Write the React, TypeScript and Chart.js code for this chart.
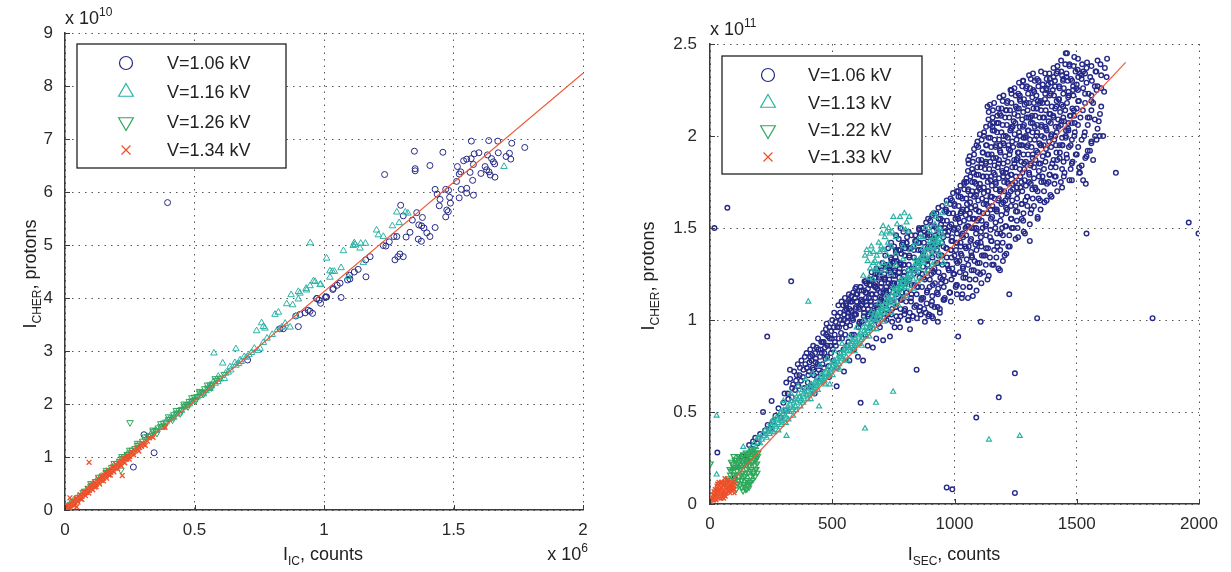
import React, { useEffect, useRef } from 'react';
import { Chart, registerables } from 'chart.js';
import { drawPoint } from 'chart.js/helpers';

Chart.register(...registerables);

const FONT = '"Liberation Sans", Arial, Helvetica, sans-serif';

// ---------------- Left panel: x in 1e6 counts, y in 1e10 protons ----------------
const leftLabels = ['V=1.06 kV', 'V=1.16 kV', 'V=1.26 kV', 'V=1.34 kV'];
const leftXTicks = [0, 0.5, 1, 1.5, 2];
const leftYTicks = [0, 1, 2, 3, 4, 5, 6, 7, 8, 9];
const leftFitX = [0, 2];
const leftFitY = [0, 8.24];

const leftBlue = [
  0.264, 0.81, 0.305, 1.42, 0.344, 1.08, 0.396, 5.8, 0.705, 2.83,
  0.83, 3.42, 0.843, 3.42, 0.901, 3.46, 0.891, 3.66, 0.907, 3.69, 0.927, 3.72, 0.946, 3.75, 0.956, 3.71, 0.939, 3.77,
  0.972, 3.99, 0.987, 3.9, 1.008, 4.02, 0.981, 3.96, 1.01, 4.02, 1.005, 4.01, 1.066, 4.01, 0.972, 3.99,
  1.034, 4.16, 1.036, 4.18, 1.051, 4.24, 1.062, 4.28, 1.091, 4.34, 1.1, 4.36, 1.098, 4.43, 1.117, 4.49, 1.132, 4.54,
  1.162, 4.4, 1.161, 4.72, 1.178, 4.78,
  1.274, 4.72, 1.285, 4.78, 1.306, 4.78, 1.293, 4.83,
  1.229, 4.99, 1.239, 4.98, 1.252, 5.06, 1.27, 5.16, 1.281, 5.16,
  1.317, 5.15, 1.332, 5.24, 1.364, 5.11, 1.376, 5.07,
  1.296, 5.75, 1.306, 5.55, 1.358, 5.61, 1.38, 5.52, 1.341, 5.47, 1.366, 5.38, 1.377, 5.36, 1.386, 5.32, 1.397, 5.23, 1.409, 5.16, 1.429, 5.33,
  1.448, 5.86, 1.445, 5.74, 1.485, 5.9, 1.488, 5.79, 1.474, 5.66, 1.48, 5.63, 1.47, 5.53,
  1.429, 6.05, 1.437, 5.96, 1.47, 6.05, 1.481, 6.03, 1.53, 6.05, 1.551, 6.07, 1.551, 5.98, 1.522, 5.89, 1.577, 5.94,
  1.512, 6.2, 1.574, 6.22, 1.515, 6.48, 1.528, 6.38, 1.522, 6.34, 1.564, 6.37, 1.577, 6.52,
  1.606, 6.35, 1.622, 6.48, 1.628, 6.42, 1.637, 6.38, 1.642, 6.32, 1.66, 6.28,
  1.647, 6.63, 1.654, 6.57, 1.659, 6.53, 1.539, 6.59, 1.551, 6.62, 1.568, 6.63, 1.58, 6.72, 1.598, 6.74,
  1.631, 6.7, 1.673, 6.74, 1.716, 6.73, 1.703, 6.67, 1.721, 6.62,
  1.569, 6.96, 1.636, 6.97, 1.671, 6.96, 1.725, 6.92, 1.775, 6.84,
  1.234, 6.33, 1.349, 6.77, 1.459, 6.75, 1.352, 6.44, 1.352, 6.4, 1.409, 6.5,
];

const leftCyan = [
  0.33, 1.42, 0.35, 1.5, 0.37, 1.56, 0.39, 1.66, 0.41, 1.72, 0.43, 1.81, 0.45, 1.88, 0.46, 1.94, 0.47, 1.97, 0.49, 2.05,
  0.5, 2.08, 0.51, 2.13, 0.52, 2.16, 0.53, 2.21, 0.545, 2.25, 0.555, 2.31, 0.565, 2.34, 0.58, 2.39, 0.573, 2.42,
  0.592, 2.52, 0.615, 2.48, 0.6, 2.47, 0.62, 2.58, 0.64, 2.64, 0.66, 2.73, 0.68, 2.8, 0.7, 2.88, 0.72, 2.97,
  0.609, 2.77, 0.637, 2.7, 0.656, 2.78, 0.676, 2.83, 0.692, 2.89, 0.575, 2.96, 0.66, 3.04,
  0.731, 3.05, 0.744, 3.01, 0.753, 3.05, 0.766, 3.16, 0.78, 3.24, 0.8, 3.31, 0.82, 3.4, 0.85, 3.52,
  0.759, 3.53, 0.766, 3.46, 0.74, 3.38, 0.772, 3.43, 0.811, 3.69, 0.824, 3.73, 0.837, 3.45, 0.869, 3.45, 0.891, 3.66,
  0.873, 4.06, 0.856, 3.89, 0.879, 3.87, 0.901, 3.98, 0.959, 4.32, 0.946, 4.23, 0.931, 4.18, 0.901, 4.12, 0.987, 4.26,
  0.947, 5.04, 1.01, 4.75, 0.965, 4.31, 0.933, 4.15, 0.907, 4.09, 0.985, 4.25,
  1.023, 4.51, 1.032, 4.5, 1.04, 4.5, 1.023, 4.39, 1.066, 4.57, 1.094, 4.4, 1.075, 4.89,
  1.117, 5.04, 1.113, 4.99, 1.142, 5.03, 1.16, 5.03, 1.139, 4.94, 1.12, 5.01, 1.152, 4.67,
  1.203, 5.28, 1.21, 5.19, 1.229, 5.16, 1.264, 5.36, 1.29, 5.42, 1.281, 5.62, 1.314, 5.62, 1.324, 5.6, 1.695, 6.48,
  0.42, 1.75, 0.44, 1.83, 0.48, 2.0, 0.535, 2.19, 0.56, 2.29, 0.59, 2.42, 0.63, 2.6, 0.67, 2.76, 0.71, 2.93,
];

const leftGreen = [
  0.002, 0.03, 0.008, 0.05, 0.015, 0.09, 0.022, 0.11, 0.03, 0.15, 0.04, 0.19, 0.05, 0.24, 0.06, 0.27, 0.07, 0.33,
  0.08, 0.36, 0.09, 0.41, 0.1, 0.45, 0.11, 0.48, 0.12, 0.54, 0.13, 0.57, 0.14, 0.62, 0.15, 0.66, 0.16, 0.71,
  0.17, 0.74, 0.18, 0.8, 0.19, 0.83, 0.2, 0.88, 0.21, 0.92, 0.22, 0.97, 0.23, 1.0, 0.24, 1.05, 0.25, 1.08,
  0.26, 1.13, 0.27, 1.16, 0.28, 1.22, 0.29, 1.25, 0.3, 1.3, 0.31, 1.33, 0.32, 1.39, 0.33, 1.41, 0.34, 1.48,
  0.35, 1.5, 0.36, 1.55, 0.37, 1.58, 0.38, 1.64, 0.39, 1.66, 0.4, 1.71, 0.41, 1.74, 0.42, 1.8, 0.43, 1.83,
  0.44, 1.88, 0.45, 1.9, 0.46, 1.96, 0.47, 1.99, 0.48, 2.05, 0.49, 2.06, 0.5, 2.13, 0.51, 2.14, 0.52, 2.21,
  0.53, 2.22, 0.54, 2.29, 0.55, 2.3, 0.56, 2.36, 0.57, 2.38, 0.585, 2.45, 0.6, 2.49, 0.615, 2.56,
  0.1, 0.5, 0.13, 0.62, 0.16, 0.75, 0.19, 0.88, 0.22, 1.01, 0.25, 1.13, 0.28, 1.26, 0.31, 1.38, 0.34, 1.51,
  0.37, 1.63, 0.4, 1.76, 0.43, 1.88, 0.46, 2.0, 0.49, 2.12, 0.52, 2.24, 0.55, 2.36, 0.58, 2.48, 0.355, 1.45,
  0.385, 1.58, 0.415, 1.7, 0.445, 1.82, 0.475, 1.95, 0.505, 2.07, 0.535, 2.19, 0.565, 2.31,
  0.251, 1.65, 0.216, 0.755,
];

const leftRed = [
  0.004, 0.01, 0.008, 0.04, 0.012, 0.03, 0.016, 0.07, 0.019, 0.23, 0.022, 0.08, 0.026, 0.12, 0.03, 0.11, 0.034, 0.15,
  0.038, 0.14, 0.045, 0.06, 0.044, 0.19, 0.048, 0.18, 0.053, 0.23, 0.057, 0.22, 0.062, 0.27, 0.066, 0.26, 0.071, 0.3,
  0.075, 0.3, 0.08, 0.34, 0.084, 0.33, 0.089, 0.38, 0.093, 0.9, 0.094, 0.37, 0.098, 0.42, 0.103, 0.41, 0.108, 0.46,
  0.112, 0.45, 0.117, 0.49, 0.121, 0.49, 0.126, 0.53, 0.131, 0.52, 0.135, 0.57, 0.14, 0.56, 0.144, 0.61, 0.149, 0.6,
  0.154, 0.65, 0.158, 0.64, 0.163, 0.69, 0.167, 0.67, 0.172, 0.72, 0.177, 0.71, 0.181, 0.76, 0.186, 0.75, 0.19, 0.8,
  0.195, 0.79, 0.2, 0.84, 0.205, 0.83, 0.21, 0.88, 0.214, 0.86, 0.221, 0.65, 0.22, 0.92, 0.226, 0.91, 0.232, 0.97,
  0.238, 0.96, 0.244, 1.02, 0.25, 1.01, 0.257, 1.06, 0.264, 1.08, 0.272, 1.12, 0.28, 1.14, 0.288, 1.18, 0.295, 1.2,
  0.305, 1.24, 0.318, 1.3, 0.386, 1.56, 0.035, 0.09, 0.061, 0.21, 0.115, 0.43, 0.17, 0.66,
  0.01, 0.08, 0.02, 0.03, 0.028, 0.17, 0.036, 0.08, 0.042, 0.22, 0.05, 0.15, 0.058, 0.29, 0.065, 0.2, 0.072, 0.35,
  0.079, 0.27, 0.086, 0.41, 0.092, 0.32, 0.1, 0.47, 0.107, 0.38, 0.114, 0.53, 0.12, 0.44, 0.128, 0.59, 0.134, 0.49,
  0.141, 0.64, 0.148, 0.55, 0.155, 0.7, 0.161, 0.6, 0.168, 0.75, 0.175, 0.66, 0.182, 0.81, 0.188, 0.72, 0.196, 0.86,
  0.203, 0.78, 0.21, 0.92, 0.217, 0.83, 0.224, 0.97, 0.231, 0.89, 0.24, 1.03, 0.248, 0.96, 0.256, 1.1, 0.265, 1.04,
  0.275, 1.17, 0.285, 1.11, 0.298, 1.26, 0.31, 1.22, 0.325, 1.36, 0.34, 1.37,
];

// ---------------- Right panel: x in counts, y in 1e9 protons (axis shows 1e11) ----------------
const rightLabels = ['V=1.06 kV', 'V=1.13 kV', 'V=1.22 kV', 'V=1.33 kV'];
const rightXTicks = [0, 500, 1000, 1500, 2000];
const rightYTicks = [0, 0.5, 1, 1.5, 2, 2.5];
const rightFitX = [0, 1700];
const rightFitY = [0, 240];

const rightBlueOutliers = [
  18, 150, 71, 161, 30, 28, 234, 91, 332, 121, 968, 9, 991, 8, 1247, 6, 1247, 71, 1181, 58, 1089, 47, 1338, 101,
  1810, 101, 1958, 153, 1998, 147, 616, 55, 845, 73, 1015, 91, 1107, 99, 1224, 114, 1540, 147,
];

const rightBlueA = [
  100, 14, 115, 20, 130, 26, 150, 24, 160, 32, 170, 30, 176, 34, 185, 36, 195, 33, 205, 38, 217, 50, 225, 40, 236, 43,
  246, 41, 252, 56, 258, 45, 268, 48, 280, 52, 290, 47, 300, 55, 310, 51, 318, 60, 327, 73, 335, 58, 340, 65, 348, 62,
  355, 70, 362, 64, 368, 74, 372, 67, 380, 69, 386, 63, 390, 76, 395, 82, 400, 66, 405, 72, 410, 80, 415, 78, 420, 74,
  425, 70, 430, 82, 436, 85, 440, 76, 445, 73, 450, 80, 455, 88, 460, 76, 463, 93, 468, 82, 472, 79, 477, 98, 480, 86,
  485, 75, 490, 90, 495, 82, 500, 100, 504, 78, 510, 92, 515, 86, 518, 64, 520, 96, 525, 108, 530, 82, 535, 100,
  540, 90, 545, 108, 548, 72, 552, 112, 556, 96, 560, 86, 565, 104, 570, 78, 575, 110, 580, 92, 586, 115, 590, 84,
  595, 106, 600, 110, 605, 80, 610, 98, 620, 116, 626, 78, 630, 104, 635, 92, 640, 120, 645, 86, 650, 112, 655, 96,
  660, 122, 666, 85, 670, 100, 675, 118, 680, 90, 685, 125, 690, 108, 695, 96, 700, 127, 708, 89, 712, 112, 718, 130,
  722, 100, 730, 120, 736, 91, 740, 134, 745, 106, 750, 124, 755, 96, 760, 138, 765, 110, 770, 100, 777, 96, 780, 130,
  785, 115, 790, 142, 795, 105, 800, 120, 804, 142, 810, 100, 815, 135, 818, 95, 822, 112, 830, 102, 835, 128, 840, 146,
  850, 118, 855, 150, 859, 107, 862, 138, 868, 125, 872, 112, 878, 148, 883, 104, 888, 132, 892, 155, 898, 118,
  902, 140, 907, 108, 912, 101, 915, 158, 918, 128, 922, 146, 928, 115, 932, 99, 935, 135, 940, 104, 945, 152,
  950, 122, 955, 140, 960, 112, 965, 160, 970, 130, 975, 148, 980, 115, 985, 138, 990, 165, 995, 125, 1000, 150,
  1005, 118, 1010, 142, 1015, 170, 1020, 132, 1025, 158, 1030, 112, 1035, 145, 1040, 175, 1045, 125, 1049, 175,
  1050, 160, 1056, 187, 1058, 140, 1062, 118, 1066, 168, 1070, 150, 1075, 113, 1078, 180, 1082, 132, 1088, 160,
  1090, 195, 1095, 142, 1100, 172, 1105, 125, 1110, 185, 1115, 150, 1120, 200, 1125, 135, 1130, 165, 1135, 216,
  1135, 122, 1140, 190, 1145, 145, 1150, 178, 1155, 205, 1158, 207, 1160, 130, 1165, 160, 1170, 195, 1175, 140,
  1180, 185, 1185, 212, 1186, 127, 1190, 170, 1195, 150, 1200, 200, 1205, 135, 1210, 180, 1213, 214, 1215, 160,
  1220, 195, 1226, 140, 1230, 170, 1233, 225, 1235, 205, 1240, 150, 1245, 185, 1250, 162, 1255, 215, 1260, 145,
  1265, 195, 1267, 220, 1270, 172, 1275, 155, 1280, 205, 1281, 230, 1285, 185, 1288, 147, 1290, 165, 1295, 218,
  1300, 195, 1305, 175, 1308, 143, 1310, 210, 1315, 160, 1320, 190, 1322, 225, 1325, 218, 1330, 172, 1335, 200,
  1340, 155, 1345, 185, 1349, 218, 1350, 165, 1355, 205, 1360, 178, 1365, 195, 1370, 220, 1376, 225, 1377, 165,
  1380, 190, 1383, 228, 1385, 175, 1390, 231, 1395, 200, 1397, 167, 1400, 185, 1405, 210, 1410, 178, 1415, 195,
  1417, 234, 1417, 216, 1420, 170, 1425, 205, 1430, 188, 1435, 175, 1438, 208, 1440, 195, 1444, 230, 1444, 216,
  1450, 180, 1455, 200, 1458, 232, 1460, 188, 1465, 204, 1470, 176, 1472, 211, 1475, 195, 1480, 185, 1485, 225,
  1490, 200, 1492, 207, 1500, 190, 1506, 219, 1506, 232, 1510, 183, 1513, 180, 1520, 233, 1526, 235, 1526, 176,
  1530, 200, 1537, 174, 1540, 189, 1545, 210, 1554, 192, 1560, 197, 1560, 219, 1567, 187, 1574, 209, 1581, 198,
  1581, 225, 1594, 200, 1608, 200, 1612, 224, 1622, 232, 1624, 242, 1660, 180, 1455, 245,
];

const rightBlueB = [
  905, 125, 925, 140, 945, 120, 960, 150, 975, 128, 990, 145, 1000, 135, 1015, 155, 1025, 140, 1035, 128, 1045, 150,
  1060, 155, 1070, 135, 1080, 150, 1092, 170, 1100, 155, 1110, 140, 1118, 178, 1128, 185, 1138, 170, 1148, 160,
  1158, 188, 1168, 175, 1178, 165, 1188, 195, 1198, 180, 1208, 165, 1218, 178, 1228, 192, 1238, 205, 1248, 175,
  1258, 188, 1268, 200, 1278, 180, 1292, 200, 1302, 210, 1312, 185, 1328, 205, 1338, 215, 1352, 195, 1362, 210,
  1372, 205, 1388, 212, 1402, 225, 1412, 200, 1428, 220, 1448, 208, 1468, 222, 1488, 214, 1498, 226,
  410, 84, 422, 86, 432, 77, 442, 90, 452, 84, 465, 88, 475, 92, 488, 96, 498, 90, 508, 104, 528, 96, 538, 110,
  558, 106, 568, 114, 578, 102, 598, 118, 618, 108, 638, 112, 658, 108, 678, 120, 698, 115, 716, 122, 735, 128,
  752, 132, 772, 138, 792, 130, 812, 148, 832, 140, 852, 142, 872, 150, 890, 145,
  305, 60, 312, 66, 320, 57, 328, 68, 336, 63, 344, 72, 352, 67, 359, 76, 366, 70, 374, 78, 382, 73, 388, 80, 396, 74,
  402, 70, 407, 77, 413, 64, 418, 81, 423, 73, 428, 60, 433, 79, 438, 69, 443, 84, 447, 75,
  453, 71, 457, 82, 461, 88, 466, 74, 470, 85, 474, 95, 479, 80, 483, 91, 487, 69, 492, 86, 496, 94,
  502, 84, 506, 96, 511, 88, 514, 99, 519, 74, 523, 102, 527, 90, 532, 104, 536, 93, 541, 98, 546, 84, 549, 103,
  553, 92, 557, 108, 561, 99, 566, 88, 569, 111, 573, 97, 577, 105, 582, 110, 585, 100, 589, 92, 593, 112, 597, 103,
  603, 114, 607, 96, 612, 106, 616, 118, 621, 99, 624, 110, 629, 116, 633, 100, 637, 121, 641, 108, 646, 117, 649, 103,
  653, 119, 657, 110, 661, 126, 664, 114, 669, 105, 673, 123, 676, 112, 681, 128, 684, 117, 689, 98, 692, 124, 697, 110,
  701, 120, 705, 131, 709, 115, 713, 125, 717, 135, 721, 118, 726, 129, 729, 139, 733, 116, 737, 126, 741, 142, 746, 120, 749, 131,
  753, 140, 757, 124, 761, 146, 764, 132, 768, 120, 772, 144, 776, 128, 779, 150, 783, 136, 787, 112, 791, 148, 795, 126, 798, 139,
];

// dense core of the 1.06 kV cloud, read row by row
const rightBlueCore = [
  548, 100, 581, 101, 612, 99, 646, 102, 680, 100, 712, 101, 745, 99, 779, 102, 812, 100, 846, 101, 879, 99, 908, 102,
  552, 105, 590, 103, 628, 106, 665, 104, 703, 105, 741, 103, 779, 106, 817, 104, 856, 105, 896, 103, 940, 106,
  556, 109, 597, 107, 638, 110, 679, 108, 720, 109, 761, 107, 802, 110, 843, 108, 886, 109, 931, 107, 985, 110,
  578, 113, 619, 111, 660, 114, 701, 112, 742, 113, 783, 111, 824, 114, 866, 112, 909, 113, 955, 111, 1010, 114, 1055, 112,
  594, 117, 636, 115, 678, 118, 720, 116, 762, 117, 804, 115, 846, 118, 889, 116, 933, 117, 980, 115, 1035, 118, 1090, 116,
  632, 121, 672, 119, 713, 122, 754, 120, 795, 121, 836, 119, 878, 122, 920, 120, 964, 121, 1010, 119, 1062, 122, 1110, 120,
  676, 125, 715, 123, 754, 126, 793, 124, 833, 125, 873, 123, 914, 126, 956, 124, 999, 125, 1045, 123, 1095, 126, 1140, 124,
  718, 129, 756, 127, 794, 130, 832, 128, 871, 129, 910, 127, 950, 130, 991, 128, 1034, 129, 1079, 127, 1128, 130, 1180, 128,
  741, 133, 778, 131, 815, 134, 853, 132, 891, 133, 929, 131, 968, 134, 1008, 132, 1050, 133, 1094, 131, 1145, 134, 1198, 132,
  760, 137, 797, 135, 834, 138, 871, 136, 909, 137, 947, 135, 986, 138, 1026, 136, 1068, 137, 1112, 135, 1162, 138, 1212, 136,
  785, 141, 821, 139, 857, 142, 894, 140, 931, 141, 968, 139, 1006, 142, 1045, 140, 1086, 141, 1129, 139, 1175, 142, 1220, 140,
  806, 145, 843, 143, 880, 146, 917, 144, 954, 145, 991, 143, 1029, 146, 1068, 144, 1108, 145, 1150, 143, 1198, 146, 1250, 144,
  855, 149, 890, 147, 925, 150, 961, 148, 997, 149, 1033, 147, 1070, 150, 1108, 148, 1147, 149, 1188, 147, 1234, 150, 1283, 148,
  884, 153, 918, 151, 952, 154, 987, 152, 1022, 153, 1057, 151, 1093, 154, 1130, 152, 1168, 153, 1208, 151, 1255, 154, 1308, 152,
  909, 157, 943, 155, 977, 158, 1011, 156, 1046, 157, 1081, 155, 1117, 158, 1154, 156, 1192, 157, 1233, 155, 1282, 158, 1340, 156,
  934, 161, 967, 159, 1000, 162, 1034, 160, 1068, 161, 1102, 159, 1137, 162, 1173, 160, 1211, 161, 1251, 159, 1298, 162, 1352, 160,
  968, 165, 1000, 163, 1032, 166, 1064, 164, 1097, 165, 1130, 163, 1164, 166, 1199, 164, 1236, 165, 1276, 163, 1320, 166, 1368, 164,
  994, 169, 1025, 167, 1056, 170, 1088, 168, 1120, 169, 1153, 167, 1186, 170, 1221, 168, 1258, 169, 1297, 167, 1340, 170, 1392, 168,
  1024, 173, 1056, 171, 1088, 174, 1120, 172, 1153, 173, 1186, 171, 1220, 174, 1255, 172, 1292, 173, 1332, 171, 1378, 174, 1440, 172,
  1049, 177, 1082, 175, 1115, 178, 1148, 176, 1182, 177, 1216, 175, 1251, 178, 1287, 176, 1325, 177, 1366, 175, 1414, 178, 1480, 176,
  1055, 181, 1090, 179, 1125, 182, 1160, 180, 1195, 181, 1231, 179, 1267, 182, 1305, 180, 1345, 181, 1388, 179, 1440, 182, 1510, 180,
  1058, 185, 1093, 183, 1128, 186, 1164, 184, 1200, 185, 1236, 183, 1273, 186, 1311, 184, 1351, 185, 1394, 183, 1446, 186, 1520, 184,
  1062, 189, 1098, 187, 1134, 190, 1170, 188, 1207, 189, 1244, 187, 1282, 190, 1320, 188, 1361, 189, 1405, 187, 1458, 190, 1535, 188,
  1080, 193, 1115, 191, 1150, 194, 1186, 192, 1222, 193, 1259, 191, 1296, 194, 1334, 192, 1374, 193, 1417, 191, 1468, 194, 1545, 192,
  1094, 197, 1129, 195, 1164, 198, 1200, 196, 1236, 197, 1272, 195, 1309, 198, 1347, 196, 1387, 197, 1430, 195, 1480, 198, 1560, 196,
  1104, 201, 1139, 199, 1174, 202, 1210, 200, 1246, 201, 1282, 199, 1319, 202, 1357, 200, 1397, 201, 1440, 199, 1492, 202, 1575, 200,
  1129, 205, 1163, 203, 1197, 206, 1232, 204, 1267, 205, 1302, 203, 1338, 206, 1375, 204, 1414, 205, 1456, 203, 1505, 206, 1585, 204,
  1139, 209, 1173, 207, 1207, 210, 1242, 208, 1277, 209, 1312, 207, 1348, 210, 1385, 208, 1424, 209, 1466, 207, 1515, 210, 1590, 208,
  1140, 213, 1175, 211, 1210, 214, 1245, 212, 1281, 213, 1317, 211, 1354, 214, 1392, 212, 1432, 213, 1475, 211, 1525, 214, 1595, 212,
  1145, 217, 1180, 215, 1215, 218, 1251, 216, 1287, 217, 1323, 215, 1360, 218, 1398, 216, 1438, 217, 1482, 215, 1534, 218, 1600, 216,
  1184, 221, 1217, 219, 1250, 222, 1284, 220, 1318, 221, 1353, 219, 1389, 222, 1426, 220, 1465, 221, 1508, 219, 1560, 222,
  1229, 225, 1261, 223, 1293, 226, 1326, 224, 1360, 225, 1394, 223, 1429, 226, 1466, 224, 1505, 225, 1548, 223, 1600, 226,
  1264, 229, 1296, 227, 1328, 230, 1361, 228, 1394, 229, 1428, 227, 1463, 230, 1500, 228, 1540, 229, 1585, 227,
  1305, 233, 1338, 231, 1371, 234, 1405, 232, 1440, 233, 1476, 231, 1514, 234, 1555, 232, 1600, 233,
  1405, 237, 1437, 235, 1470, 238, 1504, 236, 1540, 237, 1580, 235, 1615, 237,
  1436, 241, 1470, 239, 1505, 242, 1542, 240, 1585, 241,
  1460, 245, 1490, 243,
];

// second pass over the same core, between the rows above
const rightBlueCore2 = [
  564, 102, 596, 103, 629, 102, 663, 103, 696, 102, 728, 103, 762, 102, 795, 103, 829, 102, 862, 103, 893, 102,
  571, 106, 609, 107, 646, 106, 684, 107, 722, 106, 760, 107, 798, 106, 836, 107, 876, 106, 918, 107,
  576, 110, 617, 111, 658, 110, 699, 111, 740, 110, 781, 111, 822, 110, 864, 111, 908, 110, 958, 111,
  598, 114, 639, 115, 680, 114, 721, 115, 762, 114, 803, 115, 845, 114, 887, 115, 932, 114, 982, 115, 1032, 114,
  615, 118, 657, 119, 699, 118, 741, 119, 783, 118, 825, 119, 867, 118, 911, 119, 956, 118, 1007, 119, 1062, 118,
  652, 122, 692, 123, 733, 122, 774, 123, 815, 122, 857, 123, 899, 122, 942, 123, 987, 122, 1036, 123, 1086, 122,
  695, 126, 734, 127, 773, 126, 813, 127, 853, 126, 893, 127, 935, 126, 977, 127, 1022, 126, 1070, 127, 1117, 126,
  737, 130, 775, 131, 813, 130, 851, 131, 890, 130, 930, 131, 970, 130, 1012, 131, 1056, 130, 1103, 131, 1154, 130,
  759, 134, 796, 135, 834, 134, 872, 135, 910, 134, 948, 135, 988, 134, 1029, 135, 1072, 134, 1119, 135, 1171, 134,
  778, 138, 815, 139, 852, 138, 890, 139, 928, 138, 966, 139, 1006, 138, 1047, 139, 1090, 138, 1137, 139, 1187, 138,
  803, 142, 839, 143, 875, 142, 912, 143, 949, 142, 987, 143, 1025, 142, 1065, 143, 1107, 142, 1152, 143, 1197, 142,
  824, 146, 861, 147, 898, 146, 935, 147, 972, 146, 1010, 147, 1048, 146, 1088, 147, 1129, 146, 1174, 147, 1224, 146,
  872, 150, 907, 151, 943, 150, 979, 151, 1015, 150, 1051, 151, 1089, 150, 1127, 151, 1167, 150, 1211, 151, 1258, 150,
  901, 154, 935, 155, 969, 154, 1004, 155, 1039, 154, 1075, 155, 1111, 154, 1149, 155, 1188, 154, 1231, 155, 1281, 154,
  926, 158, 960, 159, 994, 158, 1028, 159, 1063, 158, 1099, 159, 1135, 158, 1173, 159, 1212, 158, 1257, 159, 1311, 158,
  950, 162, 983, 163, 1017, 162, 1051, 163, 1085, 162, 1119, 163, 1155, 162, 1192, 163, 1231, 162, 1274, 163, 1325, 162,
  984, 166, 1016, 167, 1048, 166, 1080, 167, 1113, 166, 1147, 167, 1181, 166, 1217, 167, 1256, 166, 1298, 167, 1344, 166,
  1009, 170, 1040, 171, 1072, 170, 1104, 171, 1136, 170, 1169, 171, 1203, 170, 1239, 171, 1277, 170, 1318, 171, 1366, 170,
  1040, 174, 1072, 175, 1104, 174, 1136, 175, 1169, 174, 1203, 175, 1237, 174, 1273, 175, 1312, 174, 1355, 175, 1409, 174,
  1065, 178, 1098, 179, 1131, 178, 1165, 179, 1199, 178, 1233, 179, 1269, 178, 1306, 179, 1345, 178, 1390, 179, 1447, 178,
  1072, 182, 1107, 183, 1142, 182, 1177, 183, 1213, 182, 1249, 183, 1286, 182, 1325, 183, 1366, 182, 1414, 183, 1475, 182,
  1075, 186, 1110, 187, 1146, 186, 1182, 187, 1218, 186, 1254, 187, 1292, 186, 1331, 187, 1372, 186, 1420, 187, 1483, 186,
  1080, 190, 1116, 191, 1152, 190, 1188, 191, 1225, 190, 1263, 191, 1301, 190, 1340, 191, 1383, 190, 1431, 191, 1496, 190,
  1097, 194, 1132, 195, 1168, 194, 1204, 195, 1240, 194, 1277, 195, 1315, 194, 1354, 195, 1395, 194, 1442, 195, 1506, 194,
  1111, 198, 1146, 199, 1182, 198, 1218, 199, 1254, 198, 1290, 199, 1328, 198, 1367, 199, 1408, 198, 1455, 199, 1520, 198,
  1121, 202, 1156, 203, 1192, 202, 1228, 203, 1264, 202, 1300, 203, 1338, 202, 1377, 203, 1418, 202, 1466, 203, 1533, 202,
  1146, 206, 1180, 207, 1214, 206, 1249, 207, 1284, 206, 1320, 207, 1356, 206, 1394, 207, 1435, 206, 1480, 207, 1545, 206,
  1156, 210, 1190, 211, 1224, 210, 1259, 211, 1294, 210, 1330, 211, 1366, 210, 1404, 211, 1445, 210, 1490, 211, 1552, 210,
  1157, 214, 1192, 215, 1227, 214, 1263, 215, 1299, 214, 1335, 215, 1373, 214, 1412, 215, 1453, 214, 1500, 215, 1560, 214,
  1162, 218, 1197, 219, 1233, 218, 1269, 219, 1305, 218, 1341, 219, 1379, 218, 1418, 219, 1460, 218, 1508, 219, 1567, 218,
  1200, 222, 1233, 223, 1267, 222, 1301, 223, 1335, 222, 1371, 223, 1407, 222, 1445, 223, 1486, 222, 1534, 223,
  1245, 226, 1277, 227, 1309, 226, 1343, 227, 1377, 226, 1411, 227, 1447, 226, 1485, 227, 1526, 226, 1574, 227,
  1280, 230, 1312, 231, 1344, 230, 1377, 231, 1411, 230, 1445, 231, 1481, 230, 1520, 231, 1562, 230,
  1321, 234, 1354, 235, 1388, 234, 1422, 235, 1458, 234, 1495, 235, 1534, 234, 1577, 235,
  1421, 238, 1453, 239, 1487, 238, 1522, 239, 1560, 238, 1597, 239,
];

const rightCyanA = [
  27, 48, 27, 16, 402, 110, 446, 53, 313, 37, 1141, 35, 1267, 37, 634, 41, 679, 55, 749, 61, 490, 65,
  136, 31, 150, 27, 165, 30, 180, 33, 195, 36, 205, 33, 215, 38, 225, 40, 232, 36, 240, 41, 248, 44, 255, 40,
  259, 46, 265, 43, 272, 47, 280, 44, 288, 50, 295, 46, 300, 51, 308, 48, 318, 53, 325, 50, 332, 56, 340, 52,
  348, 57, 355, 55, 362, 60, 370, 56, 378, 62, 385, 58, 392, 63, 400, 61, 409, 60, 415, 65, 420, 62, 428, 66,
  435, 64, 445, 68, 452, 66, 460, 70, 468, 67, 475, 72, 482, 70, 490, 75, 498, 73, 505, 77, 512, 74, 520, 79,
  528, 76, 535, 82, 542, 79, 550, 84, 558, 80, 565, 86, 572, 83, 580, 88, 588, 85, 595, 90, 602, 87, 610, 92,
  618, 89, 627, 96, 635, 93, 642, 98, 650, 95, 658, 100, 665, 97, 672, 103, 680, 100, 688, 105, 695, 102,
  702, 107, 710, 104, 718, 110, 725, 107, 732, 112, 740, 109, 748, 115, 755, 112, 762, 117, 770, 114, 778, 120,
  785, 117, 792, 122, 800, 119, 808, 124, 815, 121, 822, 127, 831, 122, 838, 129, 845, 126, 852, 131, 860, 128,
  868, 134, 875, 131, 882, 136, 890, 133, 898, 138, 905, 135, 913, 140, 920, 137, 927, 140, 933, 143, 940, 136,
  948, 142, 954, 131, 968, 163, 913, 158, 804, 153, 811, 148,
  750, 156, 777, 156, 708, 151, 722, 148, 736, 147, 702, 147, 641, 138, 654, 136, 668, 137, 682, 135, 695, 137,
  634, 135, 668, 131, 708, 131, 682, 127, 716, 127, 627, 124, 668, 122, 743, 140, 800, 149, 655, 128, 690, 130,
  700, 140, 725, 135, 760, 145, 740, 125, 760, 130, 790, 140, 830, 140, 860, 145, 880, 150, 900, 148, 920, 152,
  940, 150, 950, 158,
  262, 39, 291, 43, 321, 46, 352, 51, 381, 55, 412, 57, 441, 62, 471, 65, 502, 70, 531, 73, 561, 78, 592, 83,
  621, 86, 652, 91, 681, 95, 712, 99, 742, 104, 771, 108, 802, 113, 833, 117, 862, 122, 893, 127, 921, 131,
];

const rightCyanB = [
  155, 24, 172, 29, 188, 31, 200, 36, 212, 35, 222, 37, 236, 39, 244, 38, 252, 42, 262, 44, 270, 42, 277, 46,
  284, 48, 292, 45, 298, 49, 305, 50, 312, 47, 320, 51, 328, 54, 336, 51, 343, 55, 350, 53, 358, 57, 366, 58,
  374, 57, 382, 60, 389, 61, 396, 59, 404, 64, 412, 63, 419, 60, 426, 64, 432, 67, 439, 65, 447, 66, 455, 70,
  462, 68, 470, 69, 478, 73, 486, 71, 493, 72, 501, 75, 508, 78, 515, 76, 523, 77, 531, 80, 538, 80, 546, 82,
  553, 85, 561, 83, 569, 85, 576, 87, 584, 89, 591, 86, 599, 88, 606, 91, 614, 93, 622, 90, 630, 94, 638, 96,
  645, 94, 653, 97, 661, 99, 668, 101, 676, 99, 684, 102, 691, 104, 699, 103, 706, 106, 714, 108, 721, 106,
  729, 110, 736, 111, 744, 113, 751, 111, 759, 115, 766, 117, 774, 116, 781, 119, 789, 120, 796, 118, 804, 122,
  811, 123, 819, 125, 826, 124, 834, 127, 841, 131, 849, 129, 856, 133, 864, 132, 871, 136, 879, 134, 886, 138,
  894, 140, 901, 139, 909, 143, 916, 145, 924, 142, 931, 146, 938, 144, 945, 148, 952, 146,
  645, 132, 660, 140, 675, 132, 690, 142, 705, 138, 715, 145, 730, 150, 745, 148, 765, 152, 785, 150, 795, 158,
  815, 156, 712, 138, 728, 142, 650, 123, 675, 127, 700, 125, 730, 130, 760, 136, 790, 133, 820, 138, 845, 142,
  870, 145, 895, 150, 925, 156,
];

// edges of the 1.13 kV band (lower and upper sides)
const rightCyanC = [
  280, 40, 310, 44, 340, 48, 370, 53, 400, 57, 430, 61, 460, 66, 490, 70, 520, 74, 550, 78, 580, 83, 610, 87,
  640, 91, 670, 95, 700, 100, 730, 104, 760, 108, 790, 112, 820, 117, 850, 121, 880, 125, 910, 130, 940, 134,
  300, 56, 330, 60, 360, 64, 390, 68, 420, 71, 450, 75, 480, 79, 510, 83, 540, 87, 570, 91, 600, 96, 630, 100,
  660, 104, 690, 109, 720, 113, 750, 118, 780, 122, 810, 127, 840, 133, 870, 139, 900, 143, 930, 149,
];

const rightGreen = [
  3, 22,
  70, 10, 75, 14, 80, 8, 85, 18, 88, 12, 90, 22, 95, 9, 98, 16, 100, 20, 103, 13, 105, 24, 108, 8, 110, 18,
  113, 11, 115, 22, 118, 15, 120, 26, 123, 10, 125, 19, 128, 13, 130, 23, 133, 17, 135, 27, 138, 11, 140, 21,
  143, 15, 145, 25, 148, 19, 150, 13, 152, 23, 155, 17, 158, 27, 160, 21, 162, 11, 165, 15, 168, 25, 170, 19,
  173, 23, 175, 13, 178, 17, 180, 27, 183, 21, 185, 15, 188, 24, 190, 19, 193, 22, 196, 26, 160, 9, 150, 8,
  135, 7, 118, 20, 108, 24, 96, 26,
  72, 13, 77, 9, 82, 16, 86, 11, 92, 19, 97, 13, 101, 24, 106, 16, 111, 21, 116, 13, 121, 23, 126, 16, 131, 20,
  136, 14, 141, 24, 146, 17, 151, 21, 156, 12, 161, 24, 166, 18, 171, 22, 176, 16, 181, 24, 186, 19, 191, 25,
  194, 17, 198, 28, 176, 27, 166, 28, 156, 26, 146, 28, 136, 22, 126, 25, 116, 26, 106, 20, 96, 20, 86, 23,
  80, 19, 140, 10, 130, 9, 145, 8, 155, 10, 167, 12, 185, 26, 190, 28, 182, 30, 172, 29,
];

const rightRed = [
  5, 1, 10, 2, 14, 3, 18, 5, 22, 3, 25, 6, 28, 8, 30, 4, 33, 7, 36, 10, 38, 5, 40, 8, 43, 11, 45, 6, 48, 9,
  50, 12, 52, 4, 55, 7, 58, 10, 60, 5, 62, 12, 65, 8, 68, 11, 70, 6, 72, 9, 75, 12, 78, 7, 80, 10, 83, 6,
  85, 9, 88, 11, 90, 7, 93, 10, 95, 8, 20, 8, 15, 7, 35, 12, 60, 14, 47, 3,
  8, 3, 12, 5, 16, 2, 20, 6, 24, 4, 27, 10, 31, 7, 34, 4, 37, 8, 41, 6, 44, 9, 46, 12, 49, 7, 53, 10, 56, 5,
  59, 12, 63, 9, 66, 6, 69, 13, 73, 10, 76, 8, 79, 12, 82, 8, 86, 11, 89, 9, 92, 12, 96, 10, 99, 8, 102, 11,
  30, 11, 26, 2, 42, 3, 57, 3, 64, 4, 100, 6,
];

// ---------------- styles ----------------
const COLORS = ['#252987', '#2bb3a6', '#2ea85a', '#ee4f2a'];
const FIT_COLOR = '#ef5a3a';

type XY = { x: number; y: number };
function pairs(a: number[], yScale = 1): XY[] {
  const out: XY[] = [];
  for (let i = 0; i + 1 < a.length; i += 2) out.push({ x: a[i], y: a[i + 1] * yScale });
  return out;
}
function line(xs: number[], ys: number[], yScale = 1): XY[] {
  return xs.map((x, i) => ({ x, y: ys[i] * yScale }));
}

type Part = [string, number]; // 0 normal, 1 subscript, 2 superscript

function drawRich(ctx: CanvasRenderingContext2D, parts: Part[], x: number, y: number, align: string, size: number, rotate = false) {
  const small = Math.round(size * 0.68);
  const fontOf = (k: number) => `${k === 0 ? size : small}px ${FONT}`;
  let total = 0;
  const widths = parts.map(([t, k]) => {
    ctx.font = fontOf(k);
    const w = ctx.measureText(t).width;
    total += w;
    return w;
  });
  ctx.save();
  ctx.translate(x, y);
  if (rotate) ctx.rotate(-Math.PI / 2);
  let cx = align === 'center' ? -total / 2 : align === 'right' ? -total : 0;
  ctx.textBaseline = 'alphabetic';
  ctx.textAlign = 'left';
  ctx.fillStyle = '#222';
  parts.forEach(([t, k], i) => {
    ctx.font = fontOf(k);
    const dy = k === 1 ? size * 0.28 : k === 2 ? -size * 0.45 : 0;
    ctx.fillText(t, cx, dy);
    cx += widths[i];
  });
  ctx.restore();
}

const decorPlugin = {
  id: 'panelDecor',
  afterDraw(chart: any, _args: any, opts: any) {
    const ctx: CanvasRenderingContext2D = chart.ctx;
    const xs = chart.scales.x;
    const ys = chart.scales.y;
    ctx.save();
    ctx.strokeStyle = '#3a3a3a';
    ctx.lineWidth = 1;
    ctx.beginPath();
    xs.ticks.forEach((t: any) => {
      const px = Math.round(xs.getPixelForValue(t.value)) + 0.5;
      ctx.moveTo(px, ys.bottom);
      ctx.lineTo(px, ys.bottom - 5);
    });
    ys.ticks.forEach((t: any) => {
      const py = Math.round(ys.getPixelForValue(t.value)) + 0.5;
      ctx.moveTo(xs.left, py);
      ctx.lineTo(xs.left + 5, py);
    });
    ctx.stroke();

    drawRich(ctx, opts.xTitle.parts, opts.xTitle.x, opts.xTitle.y, 'center', 18);
    drawRich(ctx, opts.yTitle.parts, opts.yTitle.x, opts.yTitle.y, 'center', 18, true);
    drawRich(ctx, [['x 10', 0], [opts.topExp.exp, 2]], opts.topExp.x, opts.topExp.y, 'left', 18);
    if (opts.xExp) drawRich(ctx, [['x 10', 0], [opts.xExp.exp, 2]], opts.xExp.x, opts.xExp.y, 'right', 18);

    const lg = opts.legend;
    const [bx1, by1, bx2, by2] = lg.box;
    ctx.fillStyle = '#ffffff';
    ctx.fillRect(bx1, by1, bx2 - bx1, by2 - by1);
    ctx.strokeStyle = '#222';
    ctx.lineWidth = 1.3;
    ctx.strokeRect(bx1, by1, bx2 - bx1, by2 - by1);
    const sets = chart.data.datasets.filter((d: any) => d.inLegend);
    sets.forEach((d: any, i: number) => {
      const yy = lg.rows[i];
      ctx.strokeStyle = d.borderColor;
      ctx.fillStyle = 'rgba(0,0,0,0)';
      ctx.lineWidth = 1.2;
      drawPoint(ctx, { pointStyle: d.pointStyle, radius: lg.radius[i], rotation: d.rotation || 0, borderWidth: 1.2 } as any, lg.markerX, yy);
      ctx.fillStyle = '#222';
      ctx.font = `18px ${FONT}`;
      ctx.textAlign = 'left';
      ctx.textBaseline = 'middle';
      ctx.fillText(d.label, lg.textX, yy + 1);
    });
    ctx.restore();
  },
};

function scatterSet(label: string, data: XY[], color: string, style: string, radius: number, order: number, rotation = 0, bw = 1) {
  return {
    type: 'scatter',
    label,
    data,
    inLegend: true,
    pointStyle: style,
    rotation,
    pointRotation: rotation,
    radius,
    pointRadius: radius,
    borderColor: color,
    pointBorderColor: color,
    backgroundColor: 'rgba(0,0,0,0)',
    pointBackgroundColor: 'rgba(0,0,0,0)',
    borderWidth: bw,
    pointBorderWidth: bw,
    showLine: false,
    order,
  };
}

function axis(ticks: number[], min: number, max: number, fit: (s: any) => void, pad: number) {
  return {
    type: 'linear',
    min,
    max,
    afterBuildTicks: (s: any) => {
      s.ticks = ticks.map((v) => ({ value: v }));
    },
    afterFit: fit,
    ticks: {
      font: { family: FONT, size: 17 },
      color: '#2a2a2a',
      padding: pad,
      autoSkip: false,
      maxRotation: 0,
      callback: (v: any) => String(v),
    },
    grid: { color: '#555', lineWidth: 1, drawTicks: false },
    border: { display: true, color: '#3a3a3a', width: 1.5, dash: [1.5, 5] },
  };
}

function makeConfig(p: any) {
  return {
    type: 'scatter',
    data: { datasets: p.datasets },
    options: {
      responsive: false,
      animation: false,
      events: [],
      layout: { padding: p.padding },
      scales: {
        x: axis(p.xTicks, p.xMin, p.xMax, (s: any) => { s.height = p.xHeight; }, p.xPad),
        y: axis(p.yTicks, p.yMin, p.yMax, (s: any) => { s.width = p.yWidth; }, p.yPad),
      },
      plugins: {
        legend: { display: false },
        tooltip: { enabled: false },
        panelDecor: p.decor,
      },
    },
    plugins: [decorPlugin],
  };
}

function fitSet(data: XY[]) {
  return {
    type: 'line',
    label: 'fit',
    data,
    borderColor: FIT_COLOR,
    borderWidth: 1.2,
    pointRadius: 0,
    showLine: true,
    fill: false,
    order: 0,
  };
}

const leftPanel = {
  datasets: [
    fitSet(line(leftFitX, leftFitY)),
    scatterSet(leftLabels[0], pairs(leftBlue), COLORS[0], 'circle', 3, 4),
    scatterSet(leftLabels[1], pairs(leftCyan), COLORS[1], 'triangle', 3.8, 3),
    scatterSet(leftLabels[2], pairs(leftGreen), COLORS[2], 'triangle', 3.8, 2, 180),
    scatterSet(leftLabels[3], pairs(leftRed), COLORS[3], 'crossRot', 3.4, 1, 0, 1.3),
  ],
  xTicks: leftXTicks, yTicks: leftYTicks,
  xMin: 0, xMax: 2, yMin: 0, yMax: 9,
  padding: { left: 0, top: 33, right: 32, bottom: 0 },
  yWidth: 65, xHeight: 62, xPad: 10, yPad: 12,
  decor: {
    xTitle: { parts: [['I', 0], ['IC', 1], [', counts', 0]], x: 323, y: 560 },
    xExp: { exp: '6', x: 588, y: 560 },
    yTitle: { parts: [['I', 0], ['CHER', 1], [', protons', 0]], x: 36, y: 274 },
    topExp: { exp: '10', x: 65, y: 24 },
    legend: { box: [77, 44, 286, 168], markerX: 126, textX: 167, rows: [63, 92, 122, 150], radius: [6.5, 8.5, 8.5, 6.3] },
  },
};

const rightPanel = {
  datasets: [
    fitSet(line(rightFitX, rightFitY, 0.01)),
    scatterSet(rightLabels[0], pairs([...rightBlueOutliers, ...rightBlueA, ...rightBlueB, ...rightBlueCore, ...rightBlueCore2], 0.01), COLORS[0], 'circle', 2.3, 4, 0, 1.4),
    scatterSet(rightLabels[1], pairs([...rightCyanA, ...rightCyanB, ...rightCyanC], 0.01), COLORS[1], 'triangle', 2.9, 3, 0, 1.15),
    scatterSet(rightLabels[2], pairs(rightGreen, 0.01), COLORS[2], 'triangle', 2.9, 2, 180, 1.2),
    scatterSet(rightLabels[3], pairs(rightRed, 0.01), COLORS[3], 'crossRot', 2.8, 1, 0, 1.4),
  ],
  xTicks: rightXTicks, yTicks: rightYTicks,
  xMin: 0, xMax: 2000, yMin: 0, yMax: 2.5,
  padding: { left: 0, top: 44, right: 32, bottom: 0 },
  yWidth: 95, xHeight: 68, xPad: 10, yPad: 13,
  decor: {
    xTitle: { parts: [['I', 0], ['SEC', 1], [', counts', 0]], x: 339, y: 560 },
    xExp: null,
    yTitle: { parts: [['I', 0], ['CHER', 1], [', protons', 0]], x: 39, y: 276 },
    topExp: { exp: '11', x: 95, y: 35 },
    legend: { box: [107, 56, 307, 174], markerX: 153, textX: 193, rows: [75, 103, 130, 157], radius: [6.5, 8.5, 8.5, 6.3] },
  },
};

function Panel({ cfg, left, width }: { cfg: any; left: number; width: number }) {
  const ref = useRef<HTMLCanvasElement | null>(null);
  useEffect(() => {
    if (!ref.current) return;
    const chart = new Chart(ref.current, makeConfig(cfg) as any);
    return () => chart.destroy();
  }, [cfg]);
  return (
    <canvas
      ref={ref}
      width={width}
      height={572}
      style={{ position: 'absolute', left, top: 0, width, height: 572 }}
    />
  );
}

export default function App() {
  return (
    <div style={{ position: 'absolute', left: 0, top: 0, width: 1231, height: 572, background: '#fff' }}>
      <Panel cfg={leftPanel} left={0} width={615} />
      <Panel cfg={rightPanel} left={615} width={616} />
    </div>
  );
}
